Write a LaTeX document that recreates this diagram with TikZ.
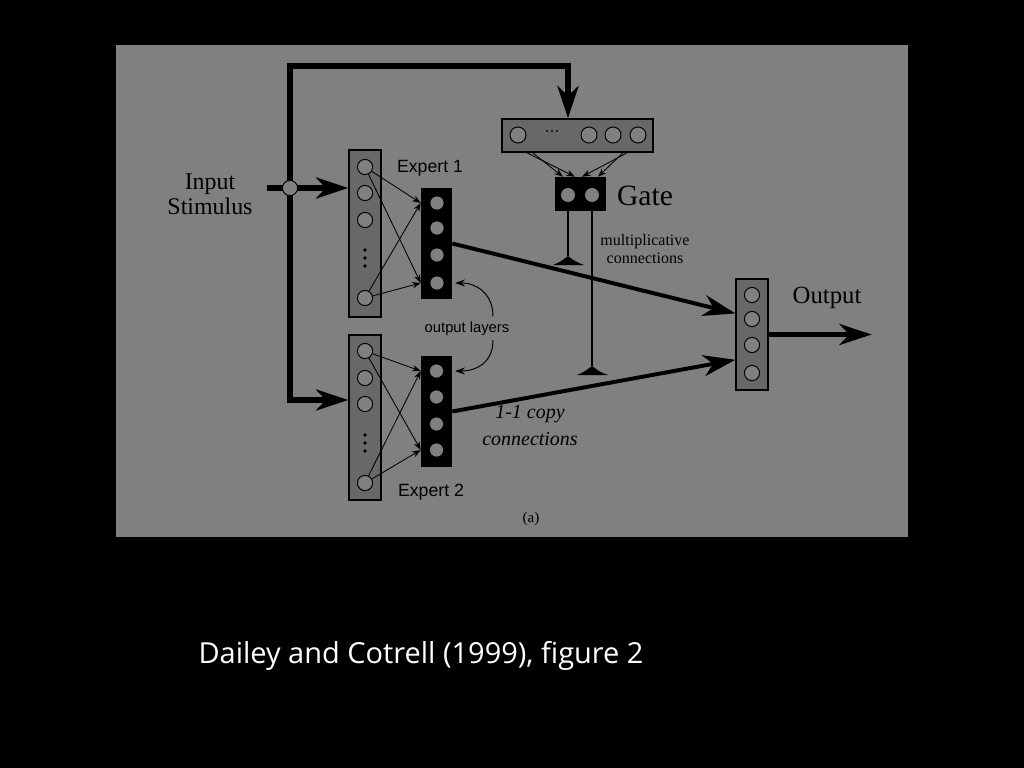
\documentclass[tikz,border=0pt]{standalone}
\usepackage{fontspec}
\setmainfont{Liberation Serif}
\setsansfont{Liberation Sans}
\newfontfamily\capfont{Open Sans}
\usetikzlibrary{arrows.meta,calc}
\definecolor{bggray}{RGB}{128,128,128}
\definecolor{boxgray}{RGB}{104,104,104}
\tikzset{
  bigline/.style={
    line width = 3.8pt,
    -{Stealth[length=23pt,width=15pt,inset=7pt]}
  },
  unit/.style={
    shape = circle,
    draw,
    fill = bggray,
    line width = 0.7pt,
    minimum size = 0.38cm,
    inner sep = 0pt
  },
  hidunit/.style={
    shape = circle,
    fill = bggray,
    minimum size = 0.33cm,
    inner sep = 0pt
  },
  layerbox/.style={
    shape = rectangle,
    draw,
    fill = boxgray,
    line width = 0.9pt,
    inner sep = 0pt
  },
  blackbox/.style={
    shape = rectangle,
    fill = black,
    inner sep = 0pt
  },
  wire/.style={
    line width = 0.6pt,
    -{Stealth[length=6pt,width=4.5pt]}
  },
  serif/.style={
    font = \rmfamily\fontsize{#1}{#1}\selectfont
  },
  sans/.style={
    font = \sffamily\fontsize{#1}{#1}\selectfont
  }
}
\tikzset{
  pics/synapse/.style={
    code = {
      \fill (0,0) .. controls (-8,6) .. (-15,9) -- (16,9) .. controls (8,6) .. (0,0);
    }
  }
}
\begin{document}
\begin{tikzpicture}[x=0.025cm,y=-0.025cm]
   \useasboundingbox (0,0) rectangle (1024,768);
   \fill[black] (0,0) rectangle (1024,768);
   \fill[bggray] (116,45) rectangle (908,537);

   % layers
   \node[layerbox, minimum width=0.8cm, minimum height=4.175cm] (e1in) at (365,233.5) {};
   \node[blackbox, minimum width=0.775cm, minimum height=2.775cm] (e1out) at (436.5,243.5) {};
   \node[layerbox, minimum width=0.8cm, minimum height=4.125cm] (e2in) at (365,417.5) {};
   \node[blackbox, minimum width=0.775cm, minimum height=2.775cm] (e2out) at (436.5,411.5) {};
   \node[layerbox, minimum width=3.775cm, minimum height=0.825cm] (gin) at (577.5,135.5) {};
   \node[blackbox, minimum width=1.275cm, minimum height=0.85cm] (gate) at (580.5,194) {};
   \node[layerbox, minimum width=0.8cm, minimum height=2.775cm] (outl) at (752,334.5) {};

   % expert 1
   \node[unit] (e1i1) at (365,167) {};
   \node[unit] (e1i2) at (365,193) {};
   \node[unit] (e1i3) at (365,220) {};
   \node[unit] (e1i4) at (365,298) {};
   \fill (365,250) circle (1.4pt) (365,258) circle (1.4pt) (365,266) circle (1.4pt);
   \node[hidunit] (e1o1) at (437,203) {};
   \node[hidunit] (e1o2) at (437,228) {};
   \node[hidunit] (e1o3) at (437,255) {};
   \node[hidunit] (e1o4) at (437,283) {};
   \draw[wire] (e1i1) -- (e1o1 -| e1out.west);
   \draw[wire] (e1i1) -- (e1o4 -| e1out.west);
   \draw[wire] (e1i4) -- (e1o1 -| e1out.west);
   \draw[wire] (e1i4) -- (e1o4 -| e1out.west);

   % expert 2
   \node[unit] (e2i1) at (365,351) {};
   \node[unit] (e2i2) at (365,378) {};
   \node[unit] (e2i3) at (365,404) {};
   \node[unit] (e2i4) at (365,483) {};
   \fill (365,435) circle (1.4pt) (365,443) circle (1.4pt) (365,451) circle (1.4pt);
   \node[hidunit] (e2o1) at (436.5,371) {};
   \node[hidunit] (e2o2) at (436.5,397) {};
   \node[hidunit] (e2o3) at (436.5,424) {};
   \node[hidunit] (e2o4) at (436.5,450) {};
   \draw[wire] (e2i1) -- (e2o1 -| e2out.west);
   \draw[wire] (e2i1) -- (e2o4 -| e2out.west);
   \draw[wire] (e2i4) -- (e2o1 -| e2out.west);
   \draw[wire] (e2i4) -- (e2o4 -| e2out.west);

   % gate
   \node[unit, minimum size=0.4cm] (gi1) at (518,135) {};
   \node[unit, minimum size=0.4cm] (gi2) at (589,135) {};
   \node[unit, minimum size=0.4cm] (gi3) at (613,135) {};
   \node[unit, minimum size=0.4cm] (gi4) at (638,135) {};
   \fill (547,131) circle (0.8pt) (552,131) circle (0.8pt) (557,131) circle (0.8pt);
   \node[hidunit, minimum size=0.35cm] (gc1) at (568,195) {};
   \node[hidunit, minimum size=0.35cm] (gc2) at (592,195) {};
   \draw[wire] ($(gin.south west)!0.166!(gin.south east)$) -- ($(gate.north west)!0.39!(gate.north east)$);
   \draw[wire] ($(gin.south west)!0.205!(gin.south east)$) -- ($(gate.north west)!0.157!(gate.north east)$);
   \draw[wire] ($(gin.south west)!0.828!(gin.south east)$) -- ($(gate.north west)!0.53!(gate.north east)$);
   \draw[wire] ($(gin.south west)!0.80!(gin.south east)$) -- ($(gate.north west)!0.84!(gate.north east)$);

   % multiplicative connections
   \coordinate (syn1) at (568,256);
   \coordinate (syn2) at (592,366);
   \draw[line width=0.8pt] (gc1 |- gate.south) -- (syn1);
   \draw[line width=0.8pt] (gc2 |- gate.south) -- (syn2);
   \pic at (syn1) {synapse};
   \pic at (syn2) {synapse};

   % output layer
   \node[unit] (oc1) at (752,295) {};
   \node[unit] (oc2) at (752,319) {};
   \node[unit] (oc3) at (752,345) {};
   \node[unit] (oc4) at (752,373) {};

   % thick paths
   \coordinate (stim) at (267,188);
   \coordinate (jn) at (290,188);
   \coordinate (corner) at (290,66);
   \coordinate (low) at (290,400);
   \draw[bigline] (stim) -- (jn -| e1in.west);
   \draw[bigline] (jn) -- (corner) -| (gin.north -| gc1);
   \draw[bigline] (jn) -- (low) -- (low -| e2in.west);
   \node[unit, minimum size=0.38cm] (split) at (jn) {};
   \draw[bigline, line width=2.8pt] (e1out.east) -- ([yshift=15pt]outl.west);
   \draw[bigline, line width=2.8pt] (e2out.east) -- ([yshift=-18pt]outl.west);
   \draw[bigline, line width=3.3pt] (outl.east) -- ++(103,0);

   % labels
   \node[serif=17, align=center] (inp) at (210,194) {Input\\[1pt]Stimulus};
   \node[sans=12.6, anchor=base] (ex1) at (430,173) {Expert 1};
   \node[sans=12.6, anchor=base] (ex2) at (431,496) {Expert 2};
   \node[sans=10.5, anchor=base] (ol) at (467,332) {output layers};
   \node[serif=21, anchor=base] (gl) at (645,205) {Gate};
   \node[serif=11.4, align=center] (mc) at (645,249) {multiplicative\\[2pt]connections};
   \node[serif=14.2, align=center] (cc) at (530,426) {\itshape 1-1 copy\\[5pt]\itshape connections};
   \node[serif=17.6, anchor=base] (ot) at (827,303) {Output};
   \node[serif=10.7, anchor=base] (al) at (531,522) {(a)};
   \node[anchor=base, text=white, font=\capfont\fontsize{20.6}{24}\selectfont] (cap) at (421,663) {Dailey and Cotrell (1999), figure 2};

   \draw[line width=0.7pt, -{Stealth[length=7pt,width=5pt]}, shorten >=2pt]
      ($(ol.north)!0.55!(ol.north east)$) .. controls +(0,-22) and +(25,0) .. (e1o4 -| e1out.east);
   \draw[line width=0.7pt, -{Stealth[length=7pt,width=5pt]}, shorten >=2pt]
      ($(ol.south)!0.55!(ol.south east)$) .. controls +(0,22) and +(25,0) .. (e2o1 -| e2out.east);
\end{tikzpicture}
\end{document}
